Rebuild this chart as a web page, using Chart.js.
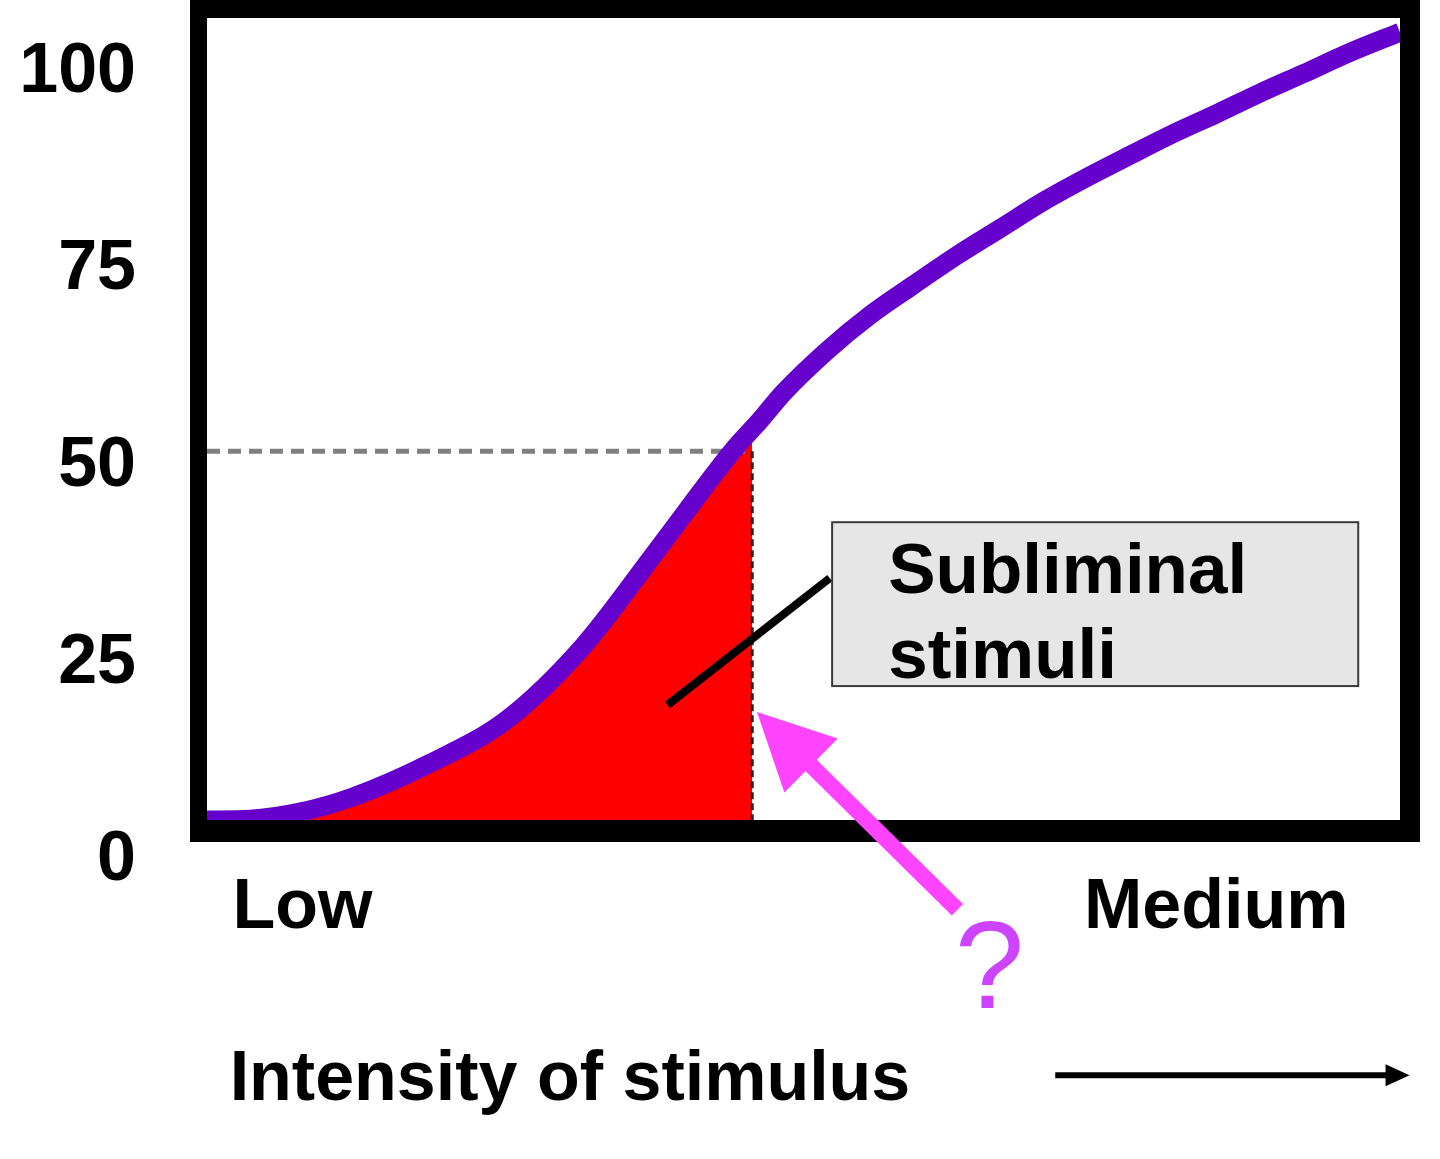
<!DOCTYPE html>
<html>
<head>
    <title>Intensity of stimulus</title>
    <script src="https://cdn.jsdelivr.net/npm/chart.js"></script>
    <style>
        body {
            margin: 0;
            background-color: #fff;
        }
        #chartContainer {
            width: 1440px;
            height: 1159px;
        }
    </style>
</head>
<body>
    <div id="chartContainer">
        <canvas id="stimulusChart"></canvas>
    </div>

    <script>
        // curve (x: 0..100 across the box, y: response)
        const intensity = [0, 3.6, 7.8, 12.2, 18.7, 25.1, 31.5, 37.9, 44.3, 46.4, 48.3, 52.0, 55.6, 59.2, 62.9, 66.5, 70.2, 73.8, 77.4, 81.1, 84.7, 88.3, 92.0, 95.6, 100];
        const response = [5.2, 5.3, 6.2, 8.1, 12.4, 17.9, 27.2, 39.8, 52.5, 56.0, 59.4, 64.8, 69.3, 73.1, 76.9, 80.3, 83.8, 86.8, 89.6, 92.4, 94.9, 97.5, 100.0, 102.5, 105.2];

        // threshold (dashed lines) and end of the red area
        const thresholdX = 45.7;
        const thresholdY = 52;
        const subliminalTop = 54.8;

        const yTicks = [0, 25, 50, 75, 100];
        const xTickValues = [8, 84.6];
        const xTickLabels = ['Low', 'Medium'];

        const yMin = 5.2;
        const yMax = 107;

        const curve = intensity.map((x, i) => ({ x: x, y: response[i] }));
        const subliminal = curve.filter(p => p.x < thresholdX);
        subliminal.push({ x: thresholdX, y: subliminalTop });

        const FONT = 'Liberation Sans, Arial, sans-serif';

        // frame + annotations (box, arrows, question mark, axis title)
        const extras = {
            id: 'extras',
            afterDatasetsDraw(chart) {
                const ctx = chart.ctx;
                const a = chart.chartArea;
                const xs = chart.scales.x, ys = chart.scales.y;
                const px = v => xs.getPixelForValue(v);
                const py = v => ys.getPixelForValue(v);

                ctx.save();
                // thick frame
                ctx.fillStyle = '#000';
                ctx.fillRect(a.left - 17, 0, a.right - a.left + 37, a.top);
                ctx.fillRect(a.left - 17, 0, 17, a.bottom + 22);
                ctx.fillRect(a.right, 0, 20, a.bottom + 22);
                ctx.fillRect(a.left - 17, a.bottom, a.right - a.left + 37, 22);

                // connector line to label
                ctx.strokeStyle = '#000';
                ctx.beginPath();
                ctx.lineWidth = 8;
                ctx.moveTo(px(38.6), py(19.8));
                ctx.lineTo(px(52.2), py(35.9));
                ctx.stroke();

                // label box
                const bx = px(52.4), by = py(43.0);
                const bw = px(96.5) - bx, bh = py(22.2) - by;
                ctx.fillStyle = '#e6e6e6';
                ctx.fillRect(bx, by, bw, bh);
                ctx.lineWidth = 2;
                ctx.strokeStyle = '#3a3a3a';
                ctx.strokeRect(bx, by, bw, bh);

                ctx.fillStyle = '#000';
                ctx.font = 'bold 71px ' + FONT;
                ctx.textAlign = 'left';
                ctx.textBaseline = 'alphabetic';
                ctx.fillText('Subliminal', px(57.1), py(34.0));
                ctx.fillText('stimuli', px(57.1), py(23.2));

                // pink arrow
                const tipX = px(46.1), tipY = py(18.9);
                const tailX = px(62.9), tailY = py(-6.2);
                const dx = tipX - tailX, dy = tipY - tailY;
                const len = Math.sqrt(dx * dx + dy * dy);
                const ux = dx / len, uy = dy / len;
                const headLen = 76, headHalf = 38;
                const baseX = tipX - ux * headLen, baseY = tipY - uy * headLen;
                ctx.strokeStyle = '#ff44ff';
                ctx.fillStyle = '#ff44ff';
                ctx.lineWidth = 16;
                ctx.beginPath();
                ctx.moveTo(tailX, tailY);
                ctx.lineTo(baseX + ux * 4, baseY + uy * 4);
                ctx.stroke();
                ctx.beginPath();
                ctx.moveTo(tipX, tipY);
                ctx.lineTo(baseX - uy * headHalf, baseY + ux * headHalf);
                ctx.lineTo(baseX + uy * headHalf, baseY - ux * headHalf);
                ctx.closePath();
                ctx.fill();

                // question mark
                ctx.fillStyle = '#cc44ff';
                ctx.font = '125px ' + FONT;
                ctx.textAlign = 'center';
                ctx.fillText('?', px(65.6), py(-18.7));

                // x axis title + arrow
                ctx.fillStyle = '#000';
                ctx.font = 'bold 70px ' + FONT;
                ctx.textAlign = 'left';
                ctx.fillText('Intensity of stimulus', px(1.9), py(-30.3));

                const ay = py(-27.2);
                const ax1 = px(71.1), ax2 = px(100.8);
                ctx.strokeStyle = '#000';
                ctx.lineWidth = 6;
                ctx.beginPath();
                ctx.moveTo(ax1, ay);
                ctx.lineTo(ax2 - 18, ay);
                ctx.stroke();
                ctx.beginPath();
                ctx.moveTo(ax2, ay);
                ctx.lineTo(ax2 - 24, ay - 11);
                ctx.lineTo(ax2 - 24, ay + 11);
                ctx.closePath();
                ctx.fill();
                ctx.restore();
            }
        };

        const ctx = document.getElementById('stimulusChart').getContext('2d');
        const myChart = new Chart(ctx, {
            type: 'line',
            data: {
                datasets: [
                    {
                        label: 'Response',
                        data: curve,
                        borderColor: '#6600cc',
                        borderWidth: 19,
                        pointRadius: 0,
                        cubicInterpolationMode: 'monotone',
                        fill: false,
                        order: 0
                    },
                    {
                        label: 'Threshold (vertical)',
                        data: [{ x: thresholdX, y: thresholdY }, { x: thresholdX, y: yMin }],
                        borderColor: '#222222',
                        borderWidth: 3,
                        borderDash: [7, 4],
                        pointRadius: 0,
                        fill: false,
                        order: 1
                    },
                    {
                        label: 'Threshold (horizontal)',
                        data: [{ x: 0, y: thresholdY }, { x: thresholdX, y: thresholdY }],
                        borderColor: '#808080',
                        borderWidth: 5,
                        borderDash: [13, 8],
                        pointRadius: 0,
                        fill: false,
                        order: 2
                    },
                    {
                        label: 'Subliminal stimuli',
                        data: subliminal,
                        borderWidth: 0,
                        borderColor: 'rgba(0,0,0,0)',
                        backgroundColor: '#ff0000',
                        pointRadius: 0,
                        cubicInterpolationMode: 'monotone',
                        fill: 'start',
                        order: 3
                    }
                ]
            },
            options: {
                responsive: true,
                maintainAspectRatio: false,
                animation: false,
                layout: {
                    padding: { top: 18, right: 40, left: 0, bottom: 0 }
                },
                plugins: {
                    legend: { display: false },
                    tooltip: { enabled: false }
                },
                scales: {
                    x: {
                        type: 'linear',
                        min: 0,
                        max: 100,
                        grid: { display: false },
                        border: { display: false },
                        afterBuildTicks: s => { s.ticks = xTickValues.map(v => ({ value: v })); },
                        afterFit: s => {
                            s.height = 339;
                            s.paddingLeft = 0;
                            s.paddingRight = 0;
                        },
                        ticks: {
                            autoSkip: false,
                            maxRotation: 0,
                            padding: 39,
                            color: '#000',
                            font: { family: FONT, size: 70, weight: 'bold' },
                            callback: v => xTickLabels[xTickValues.indexOf(v)]
                        }
                    },
                    y: {
                        min: yMin,
                        max: yMax,
                        grid: { display: false },
                        border: { display: false },
                        afterBuildTicks: s => { s.ticks = yTicks.map(v => ({ value: v })); },
                        afterFit: s => {
                            s.width = 207;
                            s.paddingTop = 0;
                            s.paddingBottom = 0;
                        },
                        ticks: {
                            autoSkip: false,
                            padding: 63,
                            color: '#000',
                            font: { family: FONT, size: 70, weight: 'bold' }
                        }
                    }
                }
            },
            plugins: [extras]
        });
    </script>
</body>
</html>
